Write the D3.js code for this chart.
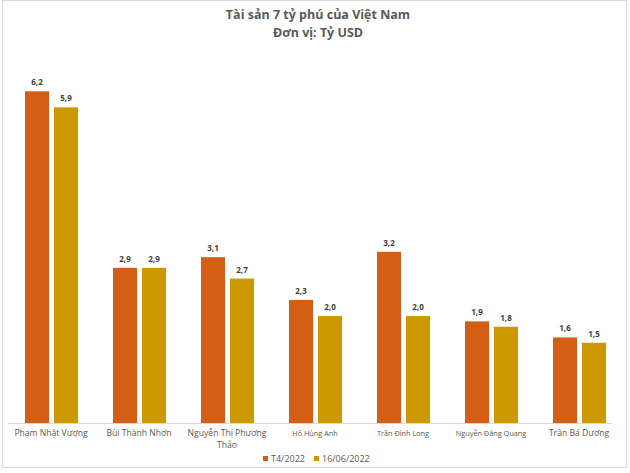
<!DOCTYPE html>
<html><head><meta charset="utf-8">
<script src="https://cdn.jsdelivr.net/npm/d3@7"></script>
<style>body{margin:0;background:#fff}svg{display:block}</style>
</head><body>
<script>
const categories = ["Phạm Nhật Vượng","Bùi  Thành Nhơn","Nguyễn Thị Phương|Thảo","Hồ Hùng Anh","Trần Đình Long","Nguyễn Đăng Quang","Trần Bá Dương"];
const labelSizes = [8.6,8.6,8.6,7.3,7.3,7.3,8.6];
const seriesNames = ["T4/2022","16/06/2022"];
const t4 = [6.2,2.9,3.1,2.3,3.2,1.9,1.6];
const jun = [5.9,2.9,2.7,2.0,2.0,1.8,1.5];
const colors = ["#D35E14","#CC9A00"];
const W=630,H=473;
const svg=d3.select("body").append("svg").attr("width",W).attr("height",H);
svg.append("rect").attr("x",2.5).attr("y",0.5).attr("width",624).attr("height",467).attr("fill","#fff").attr("stroke","#d9d9d9");
const font="'Open Sans', 'Liberation Sans', sans-serif";
svg.append("text").attr("x",318).attr("y",19).attr("text-anchor","middle").attr("font-family",font).attr("font-weight","bold").attr("font-size",12.5).attr("fill","#595959").text("Tài sản 7 tỷ phú của Việt Nam");
svg.append("text").attr("x",318).attr("y",37).attr("text-anchor","middle").attr("font-family",font).attr("font-weight","bold").attr("font-size",12.5).attr("fill","#595959").text("Đơn vị: Tỷ USD");
const base=423;
const y=d3.scaleLinear().domain([0,7]).range([base,base-7*53.5]);
const x0=d3.scaleBand().domain(categories).range([7,623]);
const x1=d3.scaleBand().domain(seriesNames).range([18,71]).paddingInner(5/29);
svg.append("line").attr("x1",8).attr("x2",612).attr("y1",base+0.5).attr("y2",base+0.5).attr("stroke","#d9d9d9");
const data=categories.map((c,i)=>({c,vals:[t4[i],jun[i]]}));
const g=svg.selectAll("g.cat").data(data).join("g").attr("transform",d=>`translate(${x0(d.c)},0)`);
seriesNames.forEach((s,si)=>{
  g.append("rect").attr("x",x1(s)).attr("width",x1.bandwidth()).attr("y",d=>y(d.vals[si])).attr("height",d=>base-y(d.vals[si])).attr("fill",colors[si]);
  g.append("text").attr("x",x1(s)+x1.bandwidth()/2).attr("y",d=>y(d.vals[si])-6).attr("text-anchor","middle").attr("font-family",font).attr("font-weight","bold").attr("font-size",8).attr("fill","#404040").text(d=>d3.format(".1f")(d.vals[si]).replace(".",","));
});
g.each(function(d,i){
  const lines=d.c.split("|");
  lines.forEach((l,li)=>d3.select(this).append("text").attr("text-anchor","middle").attr("font-family",font).attr("font-size",labelSizes[i]).attr("fill","#595959").attr("x",x0.bandwidth()/2).attr("y",436+li*12).text(l));
});
const lg=svg.append("g").attr("transform","translate(263,462)");
const lx=[0,51];
seriesNames.forEach((s,i)=>{
  lg.append("rect").attr("x",lx[i]).attr("y",-6).attr("width",5).attr("height",5).attr("fill",colors[i]);
  lg.append("text").attr("x",lx[i]+8).attr("y",0).attr("font-family",font).attr("font-size",9).attr("fill","#595959").text(s);
});
</script>
</body></html>
